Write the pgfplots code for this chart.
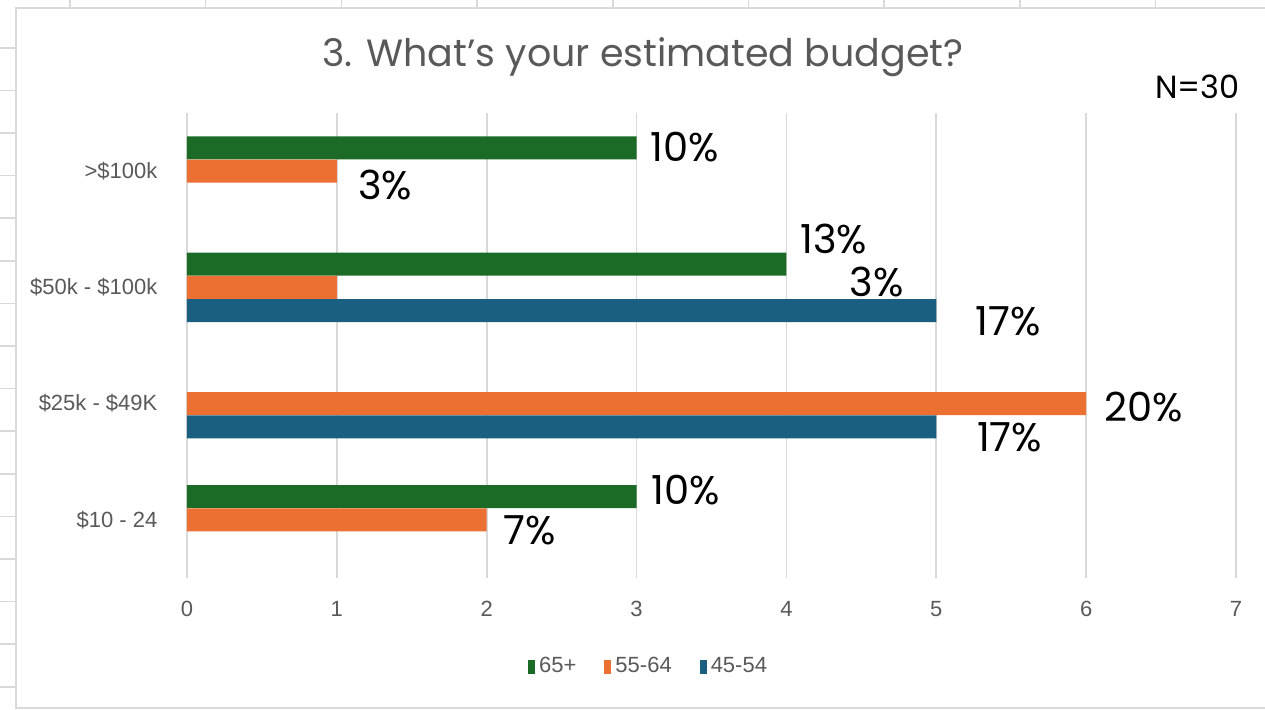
\documentclass[border=0pt]{standalone}
\usepackage{pgfplots}
\pgfplotsset{compat=1.18}
\usepackage{fontspec}
\setmainfont{Liberation Sans}
\newfontfamily\gothic{Poppins}
\definecolor{cgreen}{HTML}{1B6A25}
\definecolor{corange}{HTML}{ED7033}
\definecolor{cblue}{HTML}{1A5E80}
\definecolor{cgrid}{HTML}{D9D9D9}
\definecolor{ctext}{HTML}{595959}
\begin{document}
\begin{tikzpicture}
\useasboundingbox (-93.5pt,-66pt) rectangle (539pt,289pt);
% surrounding sheet frame
\draw[cgrid, line width=1pt] (539pt,285pt) -- (-85.5pt,285pt) -- (-85.5pt,-65pt) -- (539pt,-65pt);
\foreach \k in {1,...,16} {
  \pgfmathsetmacro\yy{289-0.5*(5.2+42.6*\k)}
  \draw[cgrid, line width=0.8pt] (-93.5pt,\yy pt) -- (-85.5pt,\yy pt);
}
\foreach \k in {0,...,8} {
  \pgfmathsetmacro\xx{0.5*(70+135.7*\k)-93.5}
  \draw[cgrid, line width=0.8pt] (\xx pt,289pt) -- (\xx pt,285pt);
}
\begin{axis}[
  scale only axis,
  width=524.5pt, height=232.5pt,
  xbar, bar width=0.198,
  xmin=0, xmax=7, ymin=-0.5, ymax=3.5,
  xtick={0,1,...,7},
  ytick={0,1,2,3},
  yticklabels={\$10 - 24, \$25k - \$49K, \$50k - \$100k, >\$100k},
  /pgf/number format/assume math mode=true,
  xmajorgrids, major grid style={cgrid, line width=0.8pt},
  axis line style={draw=none},
  tick style={draw=none},
  ticklabel style={font=\fontsize{11}{12}\selectfont, text=ctext},
  xticklabel style={yshift=-8pt},
  yticklabel style={xshift=-7pt},
  legend style={at={(axis description cs:0.441,-0.191)}, anchor=center, draw=none, fill=none,
    font=\fontsize{11}{12}\selectfont, text=ctext, legend columns=3,
    /tikz/every even column/.append style={column sep=12pt}},
  legend image code/.code={\fill[#1] (0pt,-3.5pt) rectangle (3.5pt,3.5pt);},
  clip=false,
]
\addplot[fill=cgreen, draw=none, bar shift=0.2] coordinates {(3,3) (4,2) (3,0)};
\addplot[fill=corange, draw=none, bar shift=0] coordinates {(1,3) (1,2) (6,1) (2,0)};
\addplot[fill=cblue, draw=none, bar shift=-0.2] coordinates {(5,2) (5,1)};
\legend{65+, 55-64, 45-54}
\begin{scope}[every node/.style={anchor=west, inner sep=0pt, font=\gothic\fontsize{20}{20}\selectfont}]
\node at (axis cs:3.09,3.21) {10\%};
\node at (axis cs:1.14,2.88) {3\%};
\node at (axis cs:4.09,2.42) {13\%};
\node at (axis cs:4.42,2.05) {3\%};
\node at (axis cs:5.26,1.71) {17\%};
\node at (axis cs:6.12,0.97) {20\%};
\node at (axis cs:5.27,0.71) {17\%};
\node at (axis cs:3.10,0.26) {10\%};
\node at (axis cs:2.11,-0.09) {7\%};
\end{scope}
\node[text=ctext, font=\gothic\fontsize{19}{19}\selectfont] at (axis description cs:0.4347,1.1204) {3. What’s your estimated budget?};
\node[anchor=east, inner sep=0pt, font=\gothic\fontsize{16}{16}\selectfont] at (axis description cs:1.0038,1.056) {N=30};
\end{axis}
\end{tikzpicture}
\end{document}
